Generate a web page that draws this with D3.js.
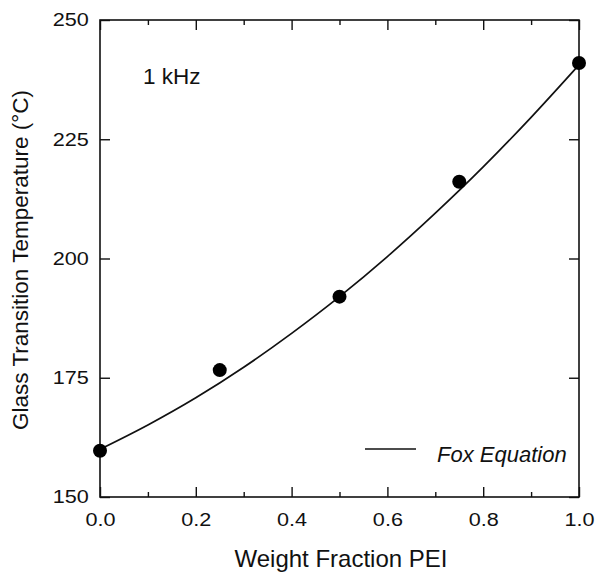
<!DOCTYPE html>
<html>
<head>
<meta charset="utf-8">
<script src="https://cdn.jsdelivr.net/npm/d3@7"></script>
<style>
  body { margin: 0; background: #fff; }
  svg text { font-family: "Liberation Sans", Arial, sans-serif; fill: #111; }
</style>
</head>
<body>
<div class="page-svg"></div>
<script>
// measured points (weight fraction PEI, Tg in C)
const fractions = [0.0, 0.25, 0.5, 0.75, 1.0]
const tgValues  = [159.7, 176.6, 192.0, 216.1, 241.0]

// Fox equation line
const foxFractions = [0.0, 0.1, 0.2, 0.3, 0.4, 0.5, 0.6, 0.7, 0.8, 0.9, 1.0]
const foxValues    = [160.0, 165.1, 170.8, 177.2, 184.3, 192.0, 200.4, 209.5, 219.2, 229.6, 240.6]

const xTicks = [0.0, 0.2, 0.4, 0.6, 0.8, 1.0]
const xMinor = [0.1, 0.3, 0.5, 0.7, 0.9]
const yTicks = [150, 175, 200, 225, 250]

const width = 595, height = 574
const margin = {top: 20, right: 16, bottom: 77, left: 100}
const plotW = width - margin.left - margin.right,
      plotH = height - margin.top - margin.bottom

var x = d3.scaleLinear().domain([0, 1]).range([0, plotW])
var y = d3.scaleLinear().domain([150, 250]).range([plotH, 0])

var svg = d3.select('.page-svg').append('svg')
  .attr('width', width)
  .attr('height', height)

var g = svg.append('g')
  .attr('transform', `translate(${margin.left},${margin.top})`)

// axes, ticks pointing inward
const tickStyle = sel => {
  sel.select('.domain').remove()
  sel.selectAll('.tick line').attr('stroke', '#111').attr('stroke-width', 1.4)
}
// the scanned digits are a bit wider than Arial
const labelStyle = sel => sel.selectAll('text')
  .attr('font-size', 18.5)
  .attr('transform', 'scale(1.17,1)')

g.append('g').attr('transform', `translate(0,${plotH})`)
  .call(d3.axisBottom(x).tickValues(xTicks).tickSize(-10).tickPadding(16).tickFormat(d3.format('.1f')))
  .call(tickStyle)
  .call(labelStyle)
g.append('g').attr('transform', `translate(0,${plotH})`)
  .call(d3.axisBottom(x).tickValues(xMinor).tickSize(-5).tickFormat(''))
  .call(tickStyle)

g.append('g')
  .call(d3.axisTop(x).tickValues(xTicks).tickSize(-10).tickFormat(''))
  .call(tickStyle)
g.append('g')
  .call(d3.axisTop(x).tickValues(xMinor).tickSize(-5).tickFormat(''))
  .call(tickStyle)

g.append('g')
  .call(d3.axisLeft(y).tickValues(yTicks).tickSize(-10).tickPadding(9.5))
  .call(tickStyle)
  .call(labelStyle)
g.append('g').attr('transform', `translate(${plotW},0)`)
  .call(d3.axisRight(y).tickValues(yTicks).tickSize(-10).tickFormat(''))
  .call(tickStyle)

// frame
g.append('rect')
  .attr('x', 0).attr('y', 0)
  .attr('width', plotW).attr('height', plotH)
  .attr('fill', 'none')
  .attr('stroke', '#111')
  .attr('stroke-width', 1.6)

// fox equation curve
var line = d3.line()
  .x(d => x(d[0]))
  .y(d => y(d[1]))
  .curve(d3.curveMonotoneX)

g.append('path')
  .datum(foxFractions.map((f, i) => [f, foxValues[i]]))
  .attr('d', line)
  .attr('fill', 'none')
  .attr('stroke', '#111')
  .attr('stroke-width', 1.7)

// data points
g.append('g')
  .selectAll('circle')
  .data(fractions.map((f, i) => [f, tgValues[i]]))
  .join('circle')
    .attr('cx', d => x(d[0]))
    .attr('cy', d => y(d[1]))
    .attr('r', 7)
    .attr('fill', '#000')

// annotation
g.append('text')
  .attr('x', 43).attr('y', 64)
  .attr('font-size', 22.5)
  .text('1 kHz')

// legend
g.append('line')
  .attr('x1', 265).attr('x2', 316)
  .attr('y1', 429).attr('y2', 429)
  .attr('stroke', '#111')
  .attr('stroke-width', 1.7)
g.append('text')
  .attr('x', 337).attr('y', 442)
  .attr('font-size', 22)
  .attr('font-style', 'italic')
  .text('Fox Equation')

// axis titles
svg.append('text')
  .attr('x', 341).attr('y', 567)
  .attr('text-anchor', 'middle')
  .attr('font-size', 24)
  .text('Weight Fraction PEI')

svg.append('text')
  .attr('transform', 'translate(28,260) rotate(-90)')
  .attr('text-anchor', 'middle')
  .attr('font-size', 22.5)
  .text('Glass Transition Temperature (°C)')
</script>
</body>
</html>
